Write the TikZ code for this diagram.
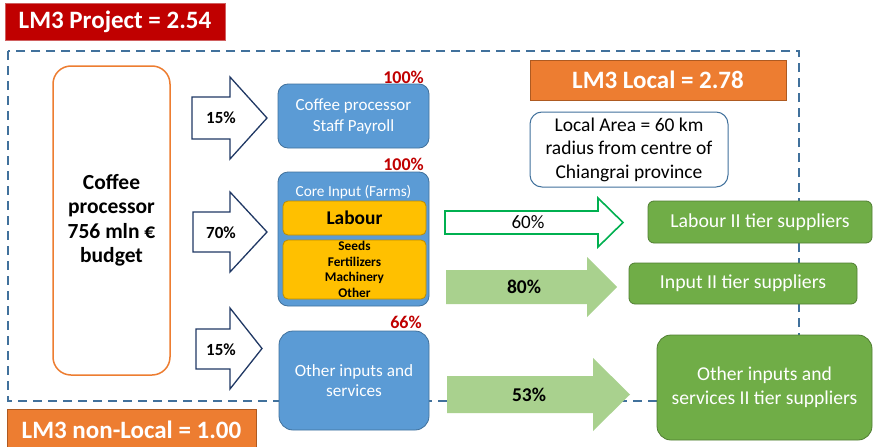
\documentclass[tikz,border=0pt]{standalone}
\usepackage{fontspec}
\setmainfont{Carlito}
\definecolor{dashblue}{HTML}{41719C}
\definecolor{boxblue}{HTML}{5B9BD5}
\definecolor{boxblueline}{HTML}{41719C}
\definecolor{darkred}{HTML}{C00000}
\definecolor{darkredline}{HTML}{D06060}
\definecolor{orng}{HTML}{ED7D31}
\definecolor{orngline}{HTML}{AE5A21}
\definecolor{yel}{HTML}{FFC000}
\definecolor{yelline}{HTML}{BC8C00}
\definecolor{grn}{HTML}{70AD47}
\definecolor{grnline}{HTML}{507E32}
\definecolor{navy}{HTML}{203864}
\definecolor{brightgreen}{HTML}{00B050}
\definecolor{lightgreen}{HTML}{A9D18E}
\newcommand{\fs}[2]{\fontsize{#1}{#2}\selectfont}
\begin{document}
\begin{tikzpicture}[x=1pt,y=-1pt,
  titlebox/.style={rectangle, text=white, font=\bfseries\fs{25}{30}, inner sep=0pt},
  bluebox/.style={rectangle, rounded corners=10pt, fill=boxblue, draw=boxblueline, line width=0.8pt, text=white, align=center, inner sep=0pt},
  yelbox/.style={rectangle, rounded corners=5pt, fill=yel, draw=yelline, line width=0.8pt, text=black, align=center, inner sep=0pt},
  greenbox/.style={rectangle, rounded corners=6pt, fill=grn, draw=grnline, line width=0.8pt, text=white, align=center, inner sep=0pt},
  redpct/.style={text=darkred, font=\bfseries\fs{18}{20}, inner sep=0pt},
  arrowlbl/.style={font=\bfseries\fs{17}{20}, inner sep=0pt},
  navyarrow/.style={draw=navy, fill=white, line width=1.3pt, line join=miter},
  outarrow/.style={draw=brightgreen, fill=white, line width=1.6pt, line join=miter},
  fillarrow/.style={fill=lightgreen, draw=none},
  dashline/.style={draw=dashblue, line width=2.4pt, dash pattern=on 9pt off 6pt}
]
\useasboundingbox (0,0) rectangle (873,447);
\fill[white] (0,0) rectangle (873,447);

% dashed local boundary
\draw[dashline] (8,51) rectangle (799,401);

% title boxes
\node[titlebox, fill=darkred, draw=darkredline, line width=0.8pt, minimum width=220pt, minimum height=37pt] (proj) at (115,21.5) {LM3 Project = 2.54};
\node[titlebox, fill=orng, draw=orngline, line width=0.6pt, minimum width=256pt, minimum height=40pt] (local) at (658,80) {LM3 Local = 2.78};
\node[titlebox, fill=orng, draw=orngline, line width=0.6pt, minimum width=249pt, minimum height=42pt] (nonlocal) at (131.5,430) {LM3 non-Local = 1.00};

% local area note
\node[rectangle, rounded corners=12pt, draw=dashblue, line width=1pt, fill=white, minimum width=198pt, minimum height=75pt, align=center, font=\fs{19.5}{23.5}, inner sep=0pt] (area) at (629,149.5) {Local Area = 60 km\\radius from centre of\\Chiangrai province};

% coffee processor
\node[rectangle, rounded corners=18pt, draw=orng, line width=1.5pt, fill=white, minimum width=117pt, minimum height=309pt, align=center, font=\bfseries\fs{21.5}{24.5}, inner sep=0pt] (proc) at (111.5,220.5) {Coffee\\processor\\756 mln €\\budget};

% input arrows
\draw[navyarrow] (192,97) -- (230,97) -- (230,77) -- (267,118) -- (230,159) -- (230,139) -- (192,139) -- cycle;
\node[arrowlbl] (a1) at (221,118) {15\%};
\draw[navyarrow] (193,212) -- (230,212) -- (230,192) -- (267,232) -- (230,272) -- (230,252) -- (193,252) -- cycle;
\node[arrowlbl] (a2) at (221,233) {70\%};
\draw[navyarrow] (196,329) -- (230,329) -- (230,308) -- (262,348.5) -- (230,389) -- (230,369) -- (196,369) -- cycle;
\node[arrowlbl] (a3) at (221,350) {15\%};

% first tier boxes
\node[bluebox, minimum width=151pt, minimum height=64pt, font=\fs{17}{21}] (payroll) at (353.5,116) {Coffee processor\\Staff Payroll};
\node[redpct] (p1) at (403.5,77) {100\%};

\node[bluebox, minimum width=151pt, minimum height=134pt] (core) at (353.5,239) {};
\node[text=white, font=\fs{15.3}{18}, inner sep=0pt] (coret) at (353.5,192) {Core Input (Farms)};
\node[yelbox, minimum width=143pt, minimum height=34pt, font=\bfseries\fs{19.4}{22}] (labour) at (354.5,218) {Labour};
\node[yelbox, minimum width=143pt, minimum height=59pt, font=\bfseries\fs{13.3}{15.7}] (seeds) at (354.5,269.5) {Seeds\\Fertilizers\\Machinery\\Other};
\node[redpct] (p2) at (403.5,164) {100\%};

\node[bluebox, rounded corners=14pt, minimum width=150pt, minimum height=99pt, font=\fs{17.2}{20.5}] (other) at (354,380.5) {Other inputs and\\services};
\node[redpct] (p3) at (406,322.5) {66\%};

% second tier arrows
\draw[outarrow] (445,211) -- (598,211) -- (598,198) -- (623,222.5) -- (598,247) -- (598,234) -- (445,234) -- cycle;
\node[font=\fs{19}{22}, inner sep=0pt] (g1) at (528,222.5) {60\%};
\fill[fillarrow] (446,270) -- (587,270) -- (587,257) -- (617,287) -- (587,317) -- (587,304) -- (446,304) -- cycle;
\node[arrowlbl, font=\bfseries\fs{19.5}{22}] (g2) at (524,287) {80\%};
\fill[fillarrow] (447,376) -- (593,376) -- (593,358) -- (630,394.5) -- (593,431) -- (593,413) -- (447,413) -- cycle;
\node[arrowlbl, font=\bfseries\fs{19.5}{22}] (g3) at (529,394.5) {53\%};

% second tier boxes
\node[greenbox, minimum width=224pt, minimum height=42pt, font=\fs{19.8}{23}] (lab2) at (760,222) {Labour II tier suppliers};
\node[greenbox, minimum width=228pt, minimum height=41pt, font=\fs{19.8}{23}] (inp2) at (743,283.5) {Input II tier suppliers};
\node[greenbox, rounded corners=14pt, minimum width=215pt, minimum height=105pt, font=\fs{19.6}{24}] (oth2) at (764.5,387.5) {Other inputs and\\services II tier suppliers};
\end{tikzpicture}
\end{document}
